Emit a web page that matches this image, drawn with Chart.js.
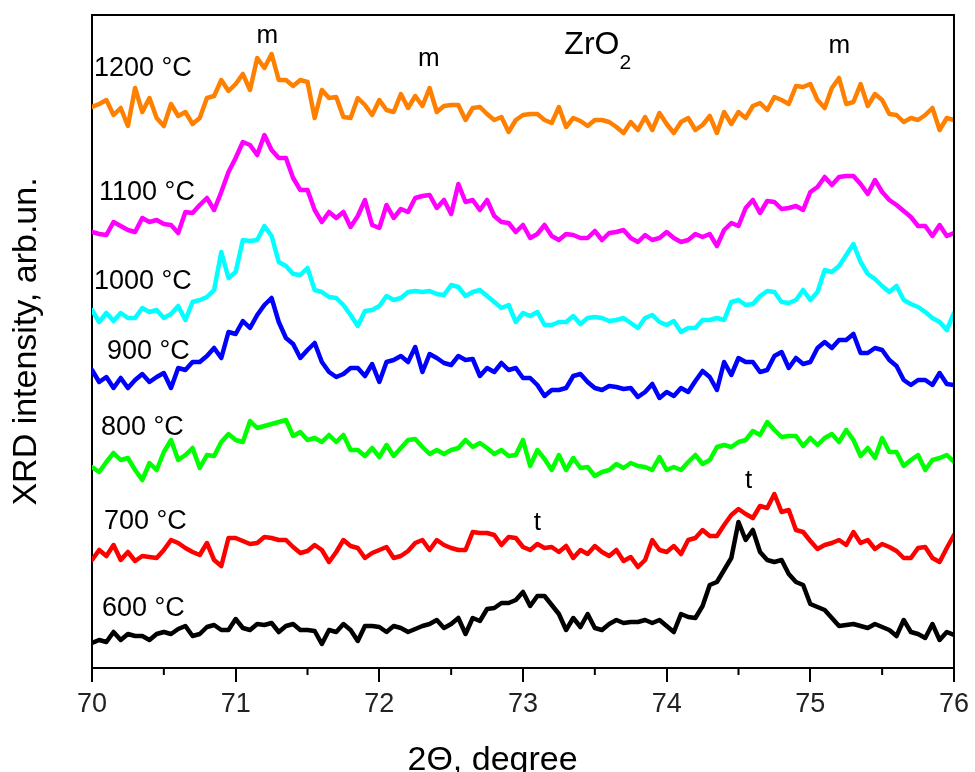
<!DOCTYPE html>
<html>
<head>
<meta charset="utf-8">
<script src="https://cdn.jsdelivr.net/npm/chart.js@4.4.1/dist/chart.umd.min.js"></script>
<style>
  html, body { margin: 0; padding: 0; background: #fff; }
  #chart { display: block; }
</style>
</head>
<body>
<canvas id="chart" width="975" height="772"></canvas>
<script>
// 2-theta grid of the scans (0.05 degree step)
const twoTheta = Array.from({ length: 121 }, (_, i) => +(70 + i * 0.05).toFixed(2));

const temperatures = ['600 °C', '700 °C', '800 °C', '900 °C', '1000 °C', '1100 °C', '1200 °C'];
const colors = ['#000000', '#ff0000', '#00ff00', '#0000ff', '#00ffff', '#ff00ff', '#ff8000'];
const xTicks = [70, 71, 72, 73, 74, 75, 76];

// intensities, arb. units (curves already offset as in the figure)
const intensity600 = [
  25, 28, 26, 36, 28, 34, 32, 32, 28, 34,
  36, 34, 39, 42, 32, 34, 41, 43, 38, 38,
  49, 40, 38, 44, 43, 45, 36, 42, 44, 38,
  38, 37, 24, 38, 36, 44, 38, 27, 42, 42,
  41, 36, 42, 40, 36, 39, 42, 44, 48, 40,
  44, 50, 34, 50, 47, 59, 60, 65, 65, 68,
  76, 62, 72, 72, 63, 54, 38, 50, 41, 54,
  40, 38, 44, 48, 45, 46, 46, 48, 45, 48,
  42, 36, 54, 51, 50, 62, 83, 86, 98, 110,
  146, 128, 138, 116, 108, 106, 108, 94, 86, 83,
  64, 61, 58, 50, 42, 43, 44, 42, 40, 44,
  41, 38, 32, 48, 36, 34, 30, 44, 28, 36,
  33
];
const intensity700 = [
  108, 118, 112, 123, 108, 116, 107, 112, 111, 110,
  118, 128, 125, 120, 116, 113, 125, 108, 102, 130,
  130, 127, 124, 125, 131, 130, 128, 128, 121, 115,
  117, 123, 118, 106, 116, 128, 122, 120, 110, 115,
  118, 121, 110, 112, 117, 125, 128, 118, 128, 123,
  120, 118, 118, 136, 135, 135, 133, 123, 131, 130,
  121, 118, 124, 120, 121, 116, 122, 110, 118, 114,
  122, 116, 112, 118, 107, 111, 101, 108, 128, 118,
  116, 122, 114, 128, 130, 138, 132, 132, 143, 153,
  159, 154, 150, 162, 160, 174, 156, 158, 138, 136,
  127, 119, 123, 125, 128, 123, 136, 125, 128, 119,
  124, 121, 117, 110, 110, 120, 121, 110, 106, 120,
  133
];
const intensity800 = [
  201, 196, 206, 215, 208, 210, 198, 188, 205, 198,
  216, 228, 208, 213, 220, 200, 213, 212, 226, 234,
  228, 226, 247, 240, 242, 244, 246, 248, 232, 236,
  228, 230, 226, 233, 226, 233, 218, 218, 212, 220,
  211, 223, 212, 220, 228, 229, 221, 214, 218, 214,
  218, 220, 228, 221, 225, 220, 214, 218, 212, 213,
  228, 202, 218, 209, 198, 213, 198, 210, 200, 201,
  192, 196, 198, 204, 200, 205, 202, 201, 198, 211,
  198, 201, 198, 206, 213, 204, 208, 221, 223, 221,
  226, 228, 237, 233, 246, 238, 231, 232, 232, 222,
  230, 223, 230, 234, 226, 238, 228, 212, 220, 210,
  230, 216, 216, 202, 208, 213, 198, 208, 210, 213,
  206
];
const intensity900 = [
  298, 286, 291, 280, 290, 280, 288, 294, 286, 291,
  295, 280, 300, 298, 306, 306, 312, 320, 310, 336,
  334, 347, 340, 353, 363, 370, 346, 330, 324, 310,
  318, 325, 306, 296, 291, 294, 300, 300, 292, 304,
  286, 306, 308, 312, 306, 321, 296, 314, 310, 305,
  303, 312, 308, 309, 292, 300, 296, 305, 298, 300,
  290, 290, 283, 272, 278, 278, 280, 292, 294, 286,
  280, 278, 282, 281, 279, 280, 271, 276, 284, 270,
  276, 272, 280, 276, 287, 297, 291, 278, 306, 293,
  310, 306, 306, 296, 298, 312, 316, 300, 310, 304,
  306, 320, 326, 320, 328, 328, 334, 315, 315, 320,
  318, 308, 302, 288, 283, 288, 288, 283, 295, 284,
  283
];
const intensity1000 = [
  358, 346, 355, 347, 355, 350, 350, 360, 356, 358,
  350, 354, 362, 348, 366, 368, 371, 378, 416, 390,
  396, 428, 427, 428, 442, 432, 406, 402, 394, 393,
  400, 378, 376, 371, 370, 363, 353, 342, 357, 358,
  362, 372, 368, 370, 376, 377, 376, 377, 374, 373,
  383, 381, 372, 376, 378, 372, 366, 360, 363, 346,
  355, 352, 356, 343, 343, 346, 346, 352, 344, 350,
  351, 350, 347, 348, 350, 345, 340, 350, 353, 346,
  343, 347, 336, 340, 340, 348, 348, 350, 348, 366,
  368, 363, 364, 372, 377, 376, 366, 365, 368, 378,
  368, 376, 398, 396, 402, 413, 424, 406, 394, 389,
  382, 376, 382, 368, 364, 361, 356, 350, 346, 338,
  355
];
const intensity1100 = [
  436, 434, 433, 446, 442, 438, 436, 450, 446, 448,
  444, 443, 435, 456, 455, 463, 470, 458, 476, 496,
  510, 526, 523, 513, 533, 518, 510, 510, 490, 478,
  478, 458, 446, 456, 450, 456, 441, 452, 468, 443,
  440, 463, 450, 459, 456, 470, 472, 473, 460, 468,
  454, 484, 466, 468, 458, 468, 452, 446, 445, 436,
  443, 430, 434, 443, 432, 428, 434, 433, 430, 430,
  437, 428, 435, 436, 438, 430, 426, 433, 428, 430,
  436, 430, 426, 428, 434, 431, 434, 422, 438, 445,
  442, 460, 468, 455, 467, 466, 459, 460, 462, 458,
  476, 481, 491, 483, 491, 492, 492, 484, 474, 488,
  476, 468, 463, 457, 451, 442, 442, 432, 443, 432,
  435
];
const intensity1200 = [
  561, 564, 568, 553, 560, 542, 580, 556, 570, 550,
  542, 564, 552, 556, 544, 550, 570, 572, 588, 577,
  584, 594, 578, 610, 600, 614, 588, 588, 582, 588,
  586, 550, 578, 570, 571, 551, 550, 570, 563, 553,
  568, 558, 556, 574, 560, 572, 562, 580, 556, 562,
  563, 563, 548, 560, 561, 554, 548, 551, 536, 548,
  553, 554, 554, 548, 545, 561, 541, 550, 547, 542,
  548, 548, 546, 541, 535, 546, 538, 551, 538, 555,
  544, 535, 546, 550, 538, 543, 552, 535, 556, 544,
  556, 550, 562, 565, 558, 571, 568, 564, 582, 581,
  584, 568, 560, 580, 590, 564, 566, 584, 562, 574,
  568, 554, 553, 546, 550, 548, 553, 560, 538, 550,
  548
];

const series = [intensity600, intensity700, intensity800, intensity900,
                intensity1000, intensity1100, intensity1200];

const FONT = "'Liberation Sans', Arial, sans-serif";

// text placed in the plot, in data coordinates
const notes = [
  { text: '1200 °C', x: 70.014, y: 599, size: 27, align: 'left' },
  { text: '1100 °C', x: 70.049, y: 475, size: 27, align: 'left' },
  { text: '1000 °C', x: 70.014, y: 386, size: 27, align: 'left' },
  { text: '900 °C', x: 70.104, y: 316, size: 27, align: 'left' },
  { text: '800 °C', x: 70.062, y: 240, size: 27, align: 'left' },
  { text: '700 °C', x: 70.083, y: 146, size: 27, align: 'left' },
  { text: '600 °C', x: 70.069, y: 59, size: 27, align: 'left' },
  { text: 'm', x: 71.221, y: 632, size: 26, align: 'center' },
  { text: 'm', x: 72.344, y: 609, size: 26, align: 'center' },
  { text: 'm', x: 75.202, y: 622, size: 26, align: 'center' },
  { text: 't', x: 73.10, y: 145, size: 26, align: 'center' },
  { text: 't', x: 74.571, y: 187, size: 26, align: 'center' }
];

const decorPlugin = {
  id: 'decor',
  afterDraw(chart) {
    const { ctx, chartArea: a, scales: { x, y } } = chart;
    ctx.save();
    ctx.strokeStyle = '#000';
    ctx.lineWidth = 2;
    // top and right frame
    ctx.beginPath();
    ctx.moveTo(a.left, a.top);
    ctx.lineTo(a.right, a.top);
    ctx.lineTo(a.right, a.bottom);
    ctx.stroke();
    // minor ticks
    for (let v = 70.5; v < 76; v += 1) {
      const px = x.getPixelForValue(v);
      ctx.beginPath();
      ctx.moveTo(px, a.bottom);
      ctx.lineTo(px, a.bottom + 7);
      ctx.stroke();
    }

    ctx.fillStyle = '#000';
    ctx.textBaseline = 'middle';
    notes.forEach(n => {
      ctx.font = `${n.size}px ${FONT}`;
      ctx.textAlign = n.align;
      ctx.fillText(n.text, x.getPixelForValue(n.x), y.getPixelForValue(n.y));
    });

    // ZrO2 with subscript
    ctx.textAlign = 'left';
    ctx.font = `32px ${FONT}`;
    const zx = x.getPixelForValue(73.288);
    ctx.fillText('ZrO', zx, y.getPixelForValue(623));
    const w = ctx.measureText('ZrO').width;
    ctx.font = `21px ${FONT}`;
    ctx.fillText('2', zx + w, y.getPixelForValue(605));

    // x axis title
    ctx.font = `34px ${FONT}`;
    ctx.textAlign = 'center';
    ctx.textBaseline = 'alphabetic';
    ctx.fillText('2\u0398, degree', x.getPixelForValue(72.788), chart.height - 2);
    ctx.restore();
  }
};

new Chart(document.getElementById('chart'), {
  type: 'line',
  data: {
    datasets: series.map((s, k) => ({
      label: temperatures[k],
      data: twoTheta.map((t, i) => ({ x: t, y: s[i] })),
      borderColor: colors[k],
      borderWidth: 4.5,
      borderJoinStyle: 'round',
      borderCapStyle: 'round',
      pointRadius: 0,
      tension: 0,
      fill: false
    }))
  },
  options: {
    responsive: false,
    animation: false,
    devicePixelRatio: 1,
    layout: { padding: { top: 15, right: 18, left: 0, bottom: 0 } },
    plugins: { legend: { display: false }, tooltip: { enabled: false } },
    scales: {
      x: {
        type: 'linear',
        min: 70,
        max: 76,
        afterBuildTicks: scale => { scale.ticks = xTicks.map(v => ({ value: v })); },
        afterFit: scale => { scale.height = 104; },
        grid: { display: true, drawOnChartArea: false, drawTicks: true, tickLength: 14, color: '#000', lineWidth: 2 },
        border: { display: true, color: '#000', width: 2 },
        ticks: { padding: 6, color: '#222', font: { size: 27, family: FONT }, maxRotation: 0 }
      },
      y: {
        min: 0,
        max: 653,
        afterFit: scale => { scale.width = 92; },
        grid: { display: false },
        border: { display: true, color: '#000', width: 2 },
        ticks: { display: false },
        title: {
          display: true,
          text: 'XRD intensity, arb.un.',
          color: '#000',
          font: { size: 34, family: FONT },
          padding: { top: 6, bottom: 0 }
        }
      }
    }
  },
  plugins: [decorPlugin]
});
</script>
</body>
</html>
